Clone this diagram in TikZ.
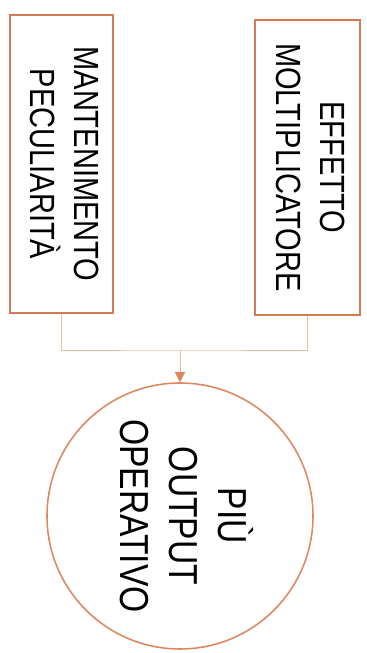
\documentclass[tikz,border=0pt]{standalone}
\usepackage{fontspec}
\setmainfont[FakeStretch=0.83]{Liberation Sans}
\usetikzlibrary{arrows.meta}
\definecolor{bordo}{RGB}{212,122,84}
\definecolor{linea}{RGB}{232,188,158}
\definecolor{cerchio}{RGB}{222,135,95}

\begin{document}
\begin{tikzpicture}[
    riquadro/.style={draw=bordo, line width=1.4pt, inner sep=0pt, font=\fontsize{24.9}{31.3}\selectfont},
    esito/.style={draw=cerchio, line width=1.1pt, circle, inner sep=0pt, minimum size=6.65cm, font=\fontsize{28.8}{34.9}\selectfont},
    collega/.style={draw=linea, line width=0.7pt}
]
    \useasboundingbox (0, 0) rectangle (9.175, 16.325);

    % riquadri
    \node[riquadro, minimum width=2.575cm, minimum height=7.45cm] (mant) at (1.5375, 12.225)
        {\rotatebox{-90}{\begin{tabular}{@{}c@{}}MANTENIMENTO\\PECULIARITÀ\end{tabular}}};
    \node[riquadro, minimum width=2.625cm, minimum height=7.375cm] (eff) at (7.6875, 12.1375)
        {\rotatebox{-90}{\begin{tabular}{@{}c@{}}EFFETTO\\MOLTIPLICATORE\end{tabular}}};

    % cerchio
    \node[esito] (out) at (4.5, 3.425)
        {\rotatebox{-90}{\begin{tabular}{@{}c@{}}PIÙ\\OUTPUT\\OPERATIVO\end{tabular}}};

    % collegamenti
    \coordinate (unione) at (4.5, 7.575);
    \draw[collega] (mant.south) |- (unione) -| (eff.south);
    \draw[collega, -{Triangle[width=0.26cm, length=0.26cm, color=cerchio]}] (unione) -- (out.north);
\end{tikzpicture}
\end{document}
